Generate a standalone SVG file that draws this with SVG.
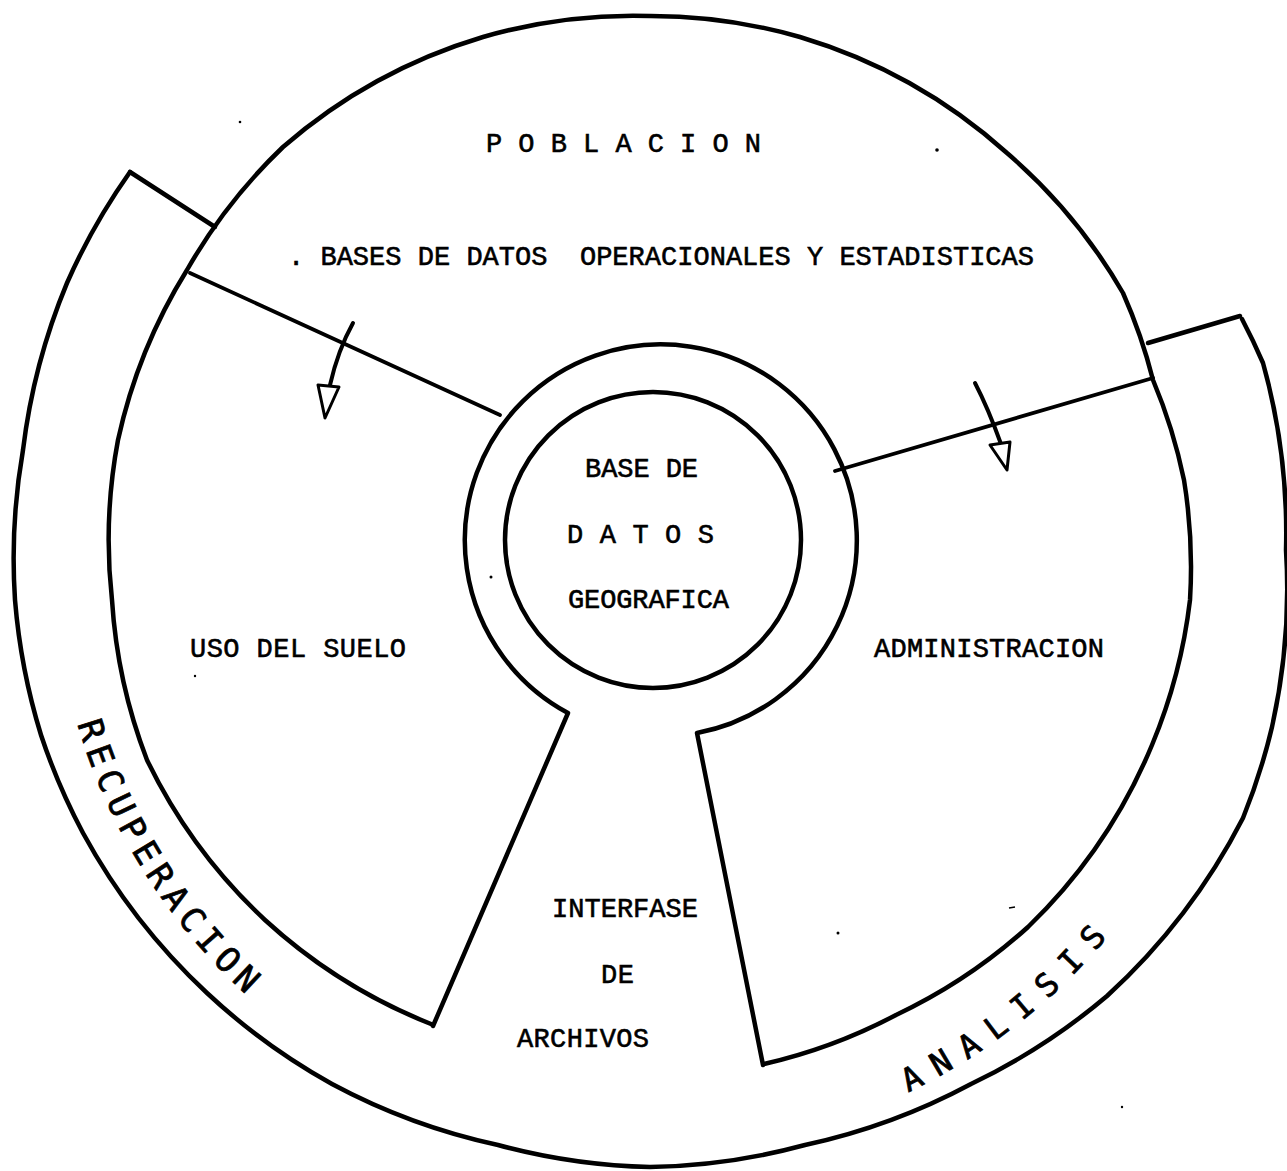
<svg xmlns="http://www.w3.org/2000/svg" width="1287" height="1171" viewBox="0 0 1287 1171">
<defs>
<style>
.ln{fill:none;stroke:#000;stroke-width:4.5;stroke-linejoin:round;stroke-linecap:round}
.rad{fill:none;stroke:#000;stroke-width:3.8;stroke-linecap:round}
.shaft{fill:none;stroke:#000;stroke-width:4;stroke-linecap:round}
.head{fill:#fff;stroke:#000;stroke-width:3;stroke-linejoin:round}
.tw{font-family:"Liberation Mono","DejaVu Sans Mono",monospace;font-size:27px;fill:#000;stroke:#000;stroke-width:0.6;white-space:pre}
.hw{font-family:"DejaVu Sans Mono","Liberation Mono",monospace;fill:#000;stroke:#000;stroke-width:0.8}
.speck{fill:#000}
</style>
<path id="recPath" d="M62.1,658.7 A597,597 0 0 0 351.5,1072"/>
<path id="anaPath" d="M804.3,1130.7 A596,596 0 0 0 1190.2,806.9"/>
</defs>
<rect width="1287" height="1171" fill="#fff"/>

<g id="node-outer-bands">
<path class="ln" d="M130,172 A632,632 0 0 0 67,283 A632,632 0 0 0 23,450 A632,632 0 0 0 15,600 A632,632 0 0 0 41,735 A632,632 0 0 0 83,833 A632,632 0 0 0 207,993 A632,632 0 0 0 332,1084 A632,632 0 0 0 498,1145 A632,632 0 0 0 650,1167 A632,632 0 0 0 805,1145 A632,632 0 0 0 971,1084 A632,632 0 0 0 1107,996 A632,632 0 0 0 1243,818 A632,632 0 0 0 1272,727 A632,632 0 0 0 1286,550 A632,632 0 0 0 1263,363 A632,632 0 0 0 1242,319"/>
<path class="ln" d="M130,172 L215,227"/>
<path class="ln" d="M1148,343 L1240,316"/>
</g>

<g id="node-main-circle">
<path class="ln" d="M431,1024 A540,540 0 0 1 265,920 A540,540 0 0 1 147,760 A540,540 0 0 1 112,600 A540,540 0 0 1 118,440 A540,540 0 0 1 187,270 A540,540 0 0 1 283,147 A540,540 0 0 1 483,37 A540,540 0 0 1 650,16 A540,540 0 0 1 800,37 A540,540 0 0 1 1007,153 A540,540 0 0 1 1123,293 A540,540 0 0 1 1153,380 A540,540 0 0 1 1184,480 A540,540 0 0 1 1190,600 A540,540 0 0 1 1152,745 A540,540 0 0 1 1028,927 A540,540 0 0 1 896,1015 A540,540 0 0 1 764,1064"/>
<path class="rad" d="M190,273 L500,415"/>
<path class="rad" d="M1153,378 L835,471"/>
</g>

<g id="node-keyhole">
<path class="ln" d="M433,1026 L568,713 A196,196 0 1 1 697,733 L763,1065"/>
</g>

<g id="node-base-datos-geografica">
<ellipse class="ln" cx="653" cy="540" rx="148" ry="148"/>
<text class="tw" x="585" y="477" textLength="113" lengthAdjust="spacing">BASE DE</text>
<text class="tw" x="567" y="543" textLength="147" lengthAdjust="spacing">D A T O S</text>
<text class="tw" x="568" y="608" textLength="161" lengthAdjust="spacing">GEOGRAFICA</text>
</g>

<g id="node-poblacion">
<text class="tw" x="486" y="152" textLength="275" lengthAdjust="spacing">P O B L A C I O N</text>
<text class="tw" x="288" y="265" textLength="746" lengthAdjust="spacing">. BASES DE DATOS  OPERACIONALES Y ESTADISTICAS</text>
</g>

<g id="node-uso-del-suelo">
<text class="tw" x="190" y="657" textLength="216" lengthAdjust="spacing">USO DEL SUELO</text>
</g>

<g id="node-administracion">
<text class="tw" x="874" y="657" textLength="230" lengthAdjust="spacing">ADMINISTRACION</text>
</g>

<g id="node-interfase">
<text class="tw" x="552" y="917" textLength="146" lengthAdjust="spacing">INTERFASE</text>
<text class="tw" x="601" y="983" textLength="33" lengthAdjust="spacing">DE</text>
<text class="tw" x="517" y="1047" textLength="132" lengthAdjust="spacing">ARCHIVOS</text>
</g>

<g id="node-recuperacion">
<text class="hw" font-size="34" letter-spacing="7"><textPath href="#recPath" startOffset="66.9">RECUPERACION</textPath></text>
</g>

<g id="node-analisis">
<text class="hw" font-size="32" letter-spacing="14.3"><textPath href="#anaPath" startOffset="111">ANALISIS</textPath></text>
</g>

<g id="connectors">
<path class="shaft" d="M353,323 Q338,350 330,385"/>
<polygon class="head" points="318,385 339,387 325,418"/>
<path class="shaft" d="M975,383 Q988,408 1001,444"/>
<polygon class="head" points="990,445 1010,442 1007,470"/>
</g>

<g id="specks">
<circle class="speck" cx="937" cy="150" r="1.8"/>
<circle class="speck" cx="240" cy="122" r="1.3"/>
<circle class="speck" cx="491" cy="577" r="1.5"/>
<circle class="speck" cx="195" cy="676" r="1.2"/>
<circle class="speck" cx="838" cy="933" r="1.5"/>
<path d="M1009,908 L1015,907" stroke="#000" stroke-width="1.5"/>
<circle class="speck" cx="1122" cy="1107" r="1.2"/>
</g>
</svg>
